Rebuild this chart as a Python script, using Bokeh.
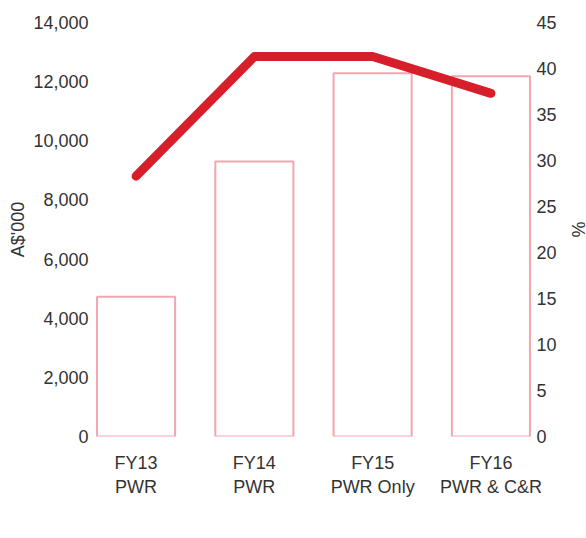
from bokeh.plotting import figure
from bokeh.models import (Range1d, LinearAxis, FixedTicker, NumeralTickFormatter,
                          Legend, LegendItem, ColumnDataSource, CDSView, IndexFilter)
from bokeh.embed import file_html
from bokeh.resources import INLINE

cat_line1 = ["FY13", "FY14", "FY15", "FY16"]
cat_line2 = ["PWR", "PWR", "PWR Only", "PWR & C&R"]
ebitda = [4730, 9300, 12280, 12180]
margin_pct = [28.3, 41.3, 41.3, 37.3]
left_ticks = [0, 2000, 4000, 6000, 8000, 10000, 12000, 14000]
right_ticks = [0, 5, 10, 15, 20, 25, 30, 35, 40, 45]

xs = list(range(len(cat_line1)))
src = ColumnDataSource(dict(x=xs, ebitda=ebitda, margin=margin_pct))

FONT = "Liberation Sans"
TXT = "#333333"
PINK = "#f2a6ad"
RED = "#d71f2b"

p = figure(width=586, height=538, frame_width=440, frame_height=414,
           output_backend="svg", toolbar_location=None,
           x_range=Range1d(-0.36, 3.36), y_range=Range1d(0, 14000),
           min_border_top=22, min_border_right=0, min_border_left=93, min_border_bottom=0)
p.outline_line_color = None
p.grid.visible = False
p.extra_y_ranges = {"pct": Range1d(0, 45)}

bars = p.vbar(x="x", top="ebitda", width=0.66, bottom=0, source=src,
              fill_color="white", line_color=PINK, line_width=2)
line = p.line(x="x", y="margin", source=src, y_range_name="pct",
              line_color=RED, line_width=9, line_cap="round", line_join="round")
# legend-only marker: shares the data but draws no points
legend_marker = p.scatter(x="x", y="ebitda", source=src, view=CDSView(filter=IndexFilter(indices=[])),
                          marker="circle", size=26, fill_color="white",
                          line_color=PINK, line_width=3)

def style(ax):
    ax.axis_line_color = None
    ax.major_tick_line_color = None
    ax.minor_tick_line_color = None
    ax.major_tick_out = 0
    ax.major_tick_in = 0
    ax.minor_tick_out = 0
    ax.major_label_text_font = FONT
    ax.major_label_text_font_size = "18px"
    ax.major_label_text_color = TXT
    ax.axis_label_text_font = FONT
    ax.axis_label_text_font_size = "18px"
    ax.axis_label_text_font_style = "normal"
    ax.axis_label_text_color = TXT

xa = p.xaxis[0]
xa.ticker = FixedTicker(ticks=xs)
xa.major_label_overrides = {i: c for i, c in enumerate(cat_line1)}
style(xa)
xa.major_label_standoff = 16

xa2 = LinearAxis(ticker=FixedTicker(ticks=xs))
xa2.major_label_overrides = {i: c for i, c in enumerate(cat_line2)}
style(xa2)
xa2.major_label_standoff = 1
p.add_layout(xa2, "below")

ya = p.yaxis[0]
ya.ticker = FixedTicker(ticks=left_ticks)
ya.formatter = NumeralTickFormatter(format="0,0")
ya.axis_label = "A$'000"
style(ya)
ya.major_label_standoff = 5
ya.axis_label_standoff = 2

ra = LinearAxis(y_range_name="pct", ticker=FixedTicker(ticks=right_ticks), axis_label="%")
style(ra)
ra.major_label_standoff = 3
ra.axis_label_standoff = 8
p.add_layout(ra, "right")

legend = Legend(items=[LegendItem(label="EBITDA", renderers=[legend_marker]),
                       LegendItem(label="EBITDA margin as % of revenue", renderers=[line])],
                orientation="horizontal", location="top_left",
                label_text_font=FONT, label_text_font_size="18px", label_text_color=TXT,
                glyph_width=30, glyph_height=26, spacing=24, padding=0, margin=8,
                label_standoff=9,
                border_line_color=None, background_fill_alpha=0)
p.add_layout(legend, "below")

open("out.html", "w").write(file_html(p, INLINE))
